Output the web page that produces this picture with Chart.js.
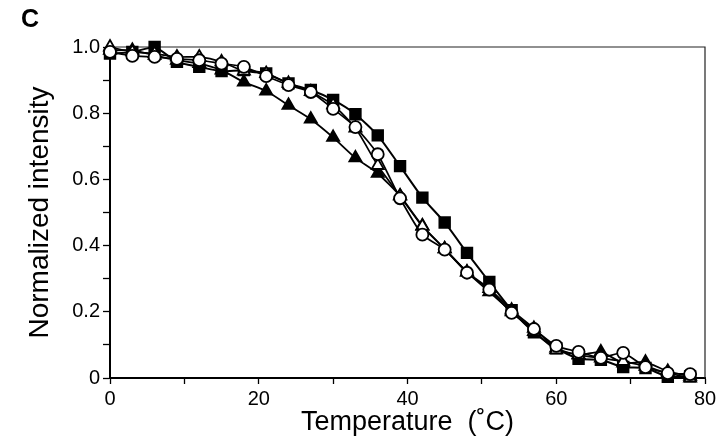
<!DOCTYPE html>
<html>
<head>
<meta charset="utf-8">
<script src="https://cdn.jsdelivr.net/npm/chart.js@4.4.0/dist/chart.umd.min.js"></script>
<style>
  body { margin: 0; background: #fff; }
  #wrap { position: relative; width: 720px; height: 447px; }
  #panel { position: absolute; left: 21px; top: 4px; font: bold 25px "Liberation Sans", Arial, sans-serif; color: #000; }
</style>
</head>
<body>
<div id="wrap">
  <canvas id="meltChart" width="720" height="447"></canvas>
  <div id="panel">C</div>
</div>
<script>
// temperatures (C)
const temps = [0, 3, 6, 9, 12, 15, 18, 21, 24, 27, 30, 33, 36, 39, 42, 45, 48, 51, 54, 57, 60, 63, 66, 69, 72, 75, 78];

// normalized intensity, one array per symbol
const filledSquares = [0.98, 0.985, 1.0, 0.955, 0.94, 0.927, 0.93, 0.92, 0.89, 0.87, 0.84, 0.797, 0.733, 0.64, 0.545, 0.47, 0.378, 0.29, 0.205, 0.138, 0.09, 0.058, 0.055, 0.033, 0.03, 0.004, 0.005];
const openCircles   = [0.985, 0.973, 0.97, 0.964, 0.96, 0.95, 0.94, 0.912, 0.885, 0.864, 0.813, 0.758, 0.676, 0.543, 0.433, 0.388, 0.318, 0.267, 0.197, 0.148, 0.097, 0.079, 0.061, 0.076, 0.033, 0.015, 0.012];
const openTriangles = [1.0, 0.985, 0.98, 0.97, 0.97, 0.955, 0.927, 0.92, 0.89, 0.865, 0.825, 0.755, 0.642, 0.55, 0.458, 0.39, 0.32, 0.26, 0.2, 0.14, 0.085, 0.07, 0.06, 0.05, 0.035, 0.015, 0.0];
const filledTriangles = [0.99, 0.99, 0.975, 0.96, 0.95, 0.93, 0.894, 0.867, 0.824, 0.782, 0.727, 0.665, 0.618, 0.55, 0.46, 0.39, 0.32, 0.27, 0.205, 0.15, 0.09, 0.07, 0.079, 0.045, 0.048, 0.02, 0.005];

const yTickLabels = ['0', '0.2', '0.4', '0.6', '0.8', '1.0'];
const xTickLabels = ['0', '20', '40', '60', '80'];

function pts(vals) {
  return temps.map((t, i) => ({ x: t, y: vals[i] }));
}

function series(label, vals, style, fill, radius, lw) {
  return {
    label: label,
    data: pts(vals),
    borderColor: '#000',
    borderWidth: lw,
    pointStyle: style,
    pointRadius: radius,
    pointBackgroundColor: fill,
    pointBorderColor: '#000',
    pointBorderWidth: 1.8,
    tension: 0.2,
    clip: false
  };
}

const fontFam = '"Liberation Sans", Arial, sans-serif';

// thin frame on top and right of plot area
const framePlugin = {
  id: 'frame',
  beforeDatasetsDraw(chart) {
    const a = chart.chartArea;
    const ctx = chart.ctx;
    ctx.save();
    ctx.strokeStyle = '#222';
    ctx.lineWidth = 1.2;
    ctx.beginPath();
    ctx.moveTo(a.left, a.top);
    ctx.lineTo(a.right, a.top);
    ctx.lineTo(a.right, a.bottom);
    ctx.stroke();
    ctx.restore();
  }
};

const config = {
  type: 'line',
  data: {
    datasets: [
      series('open circles', openCircles, 'circle', '#fff', 6, 1.7),
      series('open triangles', openTriangles, 'triangle', '#fff', 7, 1.7),
      series('filled squares', filledSquares, 'rect', '#000', 7.5, 2),
      series('filled triangles', filledTriangles, 'triangle', '#000', 7, 1.8)
    ]
  },
  options: {
    responsive: false,
    animation: false,
    layout: { padding: { top: 47, right: 15, left: 0, bottom: 0 } },
    plugins: {
      legend: { display: false },
      tooltip: { enabled: false }
    },
    scales: {
      x: {
        type: 'linear',
        min: 0,
        max: 80,
        afterFit(scale) { scale.height = 69; },
        ticks: {
          stepSize: 10,
          autoSkip: false,
          maxRotation: 0,
          padding: 3,
          color: '#000',
          font: { family: fontFam, size: 20 },
          callback: v => (v % 20 === 0 ? xTickLabels[v / 20] : '')
        },
        grid: { display: true, drawOnChartArea: false, tickLength: 6, color: '#000', tickWidth: 1.3 },
        border: { display: true, color: '#000', width: 2 },
        title: {
          display: true,
          text: 'Temperature  (˚C)',
          color: '#000',
          font: { family: fontFam, size: 27 },
          padding: { top: 0, bottom: 8 }
        }
      },
      y: {
        type: 'linear',
        min: 0,
        max: 1.0,
        afterFit(scale) { scale.width = 110; },
        ticks: {
          stepSize: 0.1,
          autoSkip: false,
          padding: 3,
          color: '#000',
          font: { family: fontFam, size: 20 },
          callback: v => {
            const k = Math.round(v * 10);
            return k % 2 === 0 ? yTickLabels[k / 2] : '';
          }
        },
        grid: { display: true, drawOnChartArea: false, tickLength: 7, color: '#000', tickWidth: 1.3 },
        border: { display: true, color: '#000', width: 2 },
        title: {
          display: true,
          text: 'Normalized intensity',
          color: '#000',
          font: { family: fontFam, size: 28 },
          padding: { top: 23, bottom: 0 }
        }
      }
    }
  },
  plugins: [framePlugin]
};

const meltChart = new Chart(document.getElementById('meltChart'), config);
</script>
</body>
</html>
